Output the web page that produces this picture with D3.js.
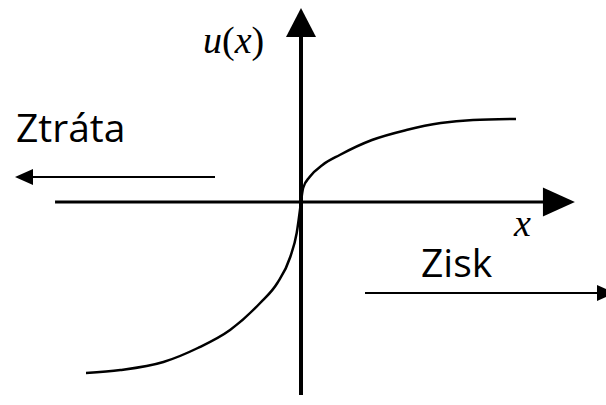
<!DOCTYPE html>
<html>
<head>
<meta charset="utf-8">
<script src="https://cdn.jsdelivr.net/npm/d3@7"></script>
<style>
  body { margin: 0; background: #fff; }
  svg { display: block; }
</style>
</head>
<body>
<svg width="606" height="405"></svg>
<script>
// value function u(x) (gain side and loss side)
const gainX = [0, 0.1, 0.4, 1, 1.8, 3.3, 4.9, 6.5, 8, 10];
const gainU = [0, 0.7, 1.25, 1.85, 2.35, 3.1, 3.6, 3.95, 4.1, 4.15];
const lossX = [-10, -8.4, -6.4, -4.8, -3.3, -1.9, -1.1, -0.5, -0.2, 0];
const lossU = [-8.55, -8.4, -8.0, -7.3, -6.4, -5.05, -4.05, -2.75, -1.55, 0];

const labelX = "x";
const lossLabel = "Ztráta";
const gainLabel = "Zisk";

const svg = d3.select("svg");

const x = d3.scaleLinear().domain([-10, 10]).range([86, 516]);
const y = d3.scaleLinear().domain([-9, 5]).range([382, 102]);

// axes
const xMin = -11.44, xMax = 12.74;
const yMin = -9.65, yMax = 9.7;

svg.append("line")
  .attr("x1", x(xMin)).attr("x2", x(xMax) - 20)
  .attr("y1", y(0)).attr("y2", y(0))
  .attr("stroke", "#000").attr("stroke-width", 3);

svg.append("line")
  .attr("x1", x(0)).attr("x2", x(0))
  .attr("y1", y(yMin)).attr("y2", y(yMax) + 20)
  .attr("stroke", "#000").attr("stroke-width", 4);

// arrow heads of the axes
const tx = x(xMax), ty = y(0);
svg.append("path")
  .attr("d", `M${tx},${ty} L${tx - 32},${ty - 14.5} L${tx - 32},${ty + 14.5} Z`)
  .attr("fill", "#000");
const vx = x(0), vy = y(yMax);
svg.append("path")
  .attr("d", `M${vx},${vy} L${vx - 15},${vy + 29} L${vx + 15},${vy + 29} Z`)
  .attr("fill", "#000");

// curve
const curveLine = d3.line()
  .x(d => x(d[0]))
  .y(d => y(d[1]))
  .curve(d3.curveMonotoneX);

const gainPts = gainX.map((v, i) => [v, gainU[i]]);
const lossPts = lossX.map((v, i) => [v, lossU[i]]);

svg.append("path")
  .attr("d", curveLine(lossPts))
  .attr("fill", "none").attr("stroke", "#000").attr("stroke-width", 2.5);
svg.append("path")
  .attr("d", curveLine(gainPts))
  .attr("fill", "none").attr("stroke", "#000").attr("stroke-width", 2.5);

// axis labels
const yl = svg.append("text")
  .attr("x", 203).attr("y", 53)
  .attr("font-family", "'Liberation Serif', 'Times New Roman', serif")
  .attr("font-size", 38);
yl.append("tspan").attr("font-style", "italic").text("u");
yl.append("tspan").text("(");
yl.append("tspan").attr("font-style", "italic").text("x");
yl.append("tspan").text(")");

svg.append("text")
  .attr("x", 514).attr("y", 236)
  .attr("font-family", "'Liberation Serif', 'Times New Roman', serif")
  .attr("font-style", "italic")
  .attr("font-size", 38)
  .text(labelX);

// loss / gain annotations
svg.append("text")
  .attr("x", 16).attr("y", 142)
  .attr("font-family", "'Open Sans', sans-serif")
  .attr("font-size", 39)
  .text(lossLabel);

svg.append("line")
  .attr("x1", 215).attr("x2", 30).attr("y1", 177).attr("y2", 177)
  .attr("stroke", "#000").attr("stroke-width", 2);
svg.append("path")
  .attr("d", "M15,177 L33,169 L33,185 Z").attr("fill", "#000");

svg.append("text")
  .attr("x", 421).attr("y", 277)
  .attr("font-family", "'Open Sans', sans-serif")
  .attr("font-size", 39)
  .text(gainLabel);

svg.append("line")
  .attr("x1", 365).attr("x2", 600).attr("y1", 293).attr("y2", 293)
  .attr("stroke", "#000").attr("stroke-width", 2);
svg.append("path")
  .attr("d", "M615,293 L597,285 L597,301 Z").attr("fill", "#000");
</script>
</body>
</html>
